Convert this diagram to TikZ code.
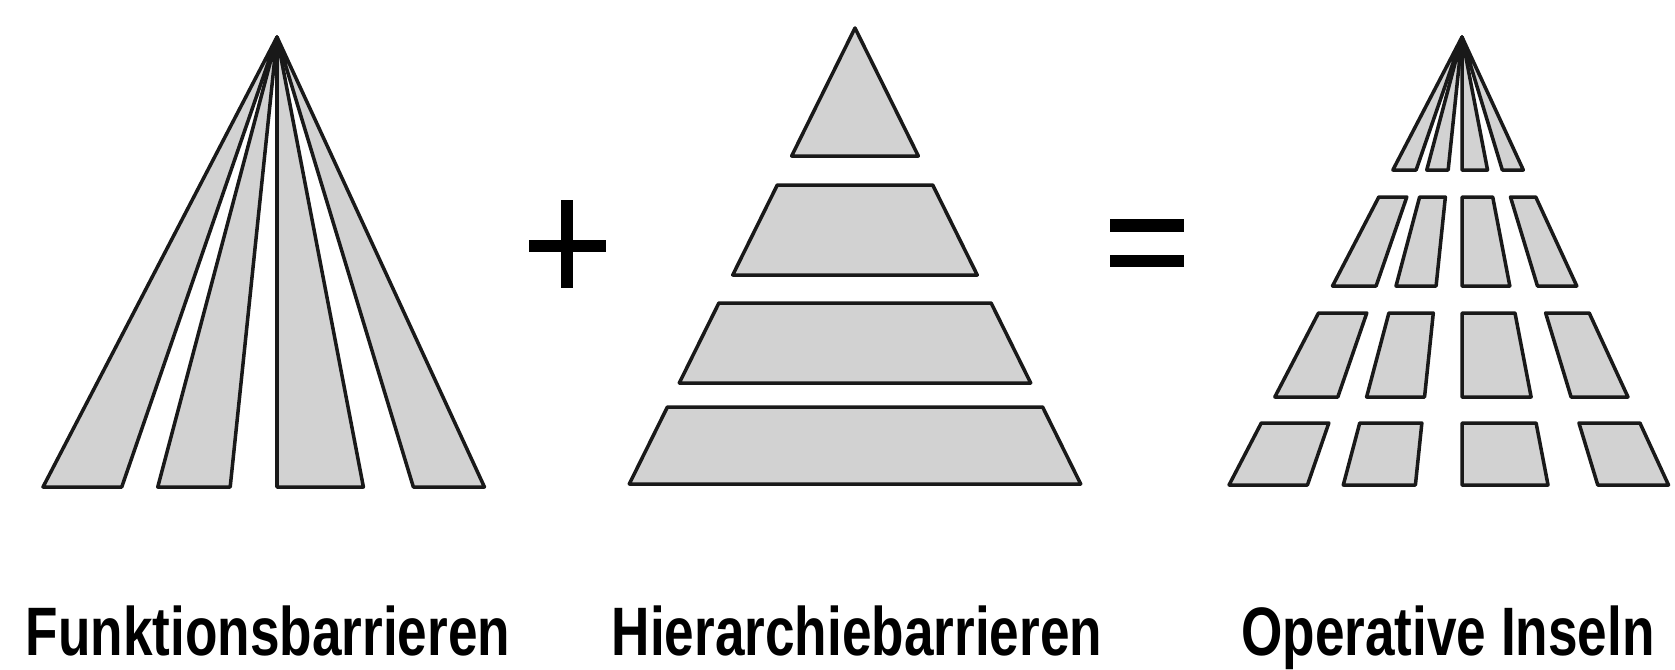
\documentclass[tikz,border=0pt]{standalone}
\usepackage{fontspec}
\setmainfont{Liberation Sans}
\definecolor{blockgray}{RGB}{210,210,210}

\begin{document}
\begin{tikzpicture}[x=0.01cm, y=-0.01cm,
		block/.style={draw=black!90, line width=1pt, fill=blockgray, line join=round},
		titel/.style={anchor=base, inner sep=0pt, font=\fontsize{19.5}{20}\selectfont\bfseries},
		sign/.style={line width=0.125cm, line cap=butt}]
		\useasboundingbox (0,0) rectangle (1675,669);
		
		% Funktionsbarrieren
		\foreach \sa/\sb in {-0.52/-0.345, -0.265/-0.104, 0/0.192, 0.303/0.461}
			\draw[block] (277,37) -- ({277+\sa*450},487) -- ({277+\sb*450},487) -- cycle;
		
		% Plus
		\draw[sign] (529,246) -- (606,246);
		\draw[sign] (567,200) -- (567,288);
		
		% Hierarchiebarrieren
		\draw[block] (855,28) -- ({855-0.495*128},156) -- ({855+0.495*128},156) -- cycle;
		\foreach \ya/\yb in {185/275, 303/383, 407/484}
			\draw[block] ({855-0.495*(\ya-28)},\ya) -- ({855+0.495*(\ya-28)},\ya)
				-- ({855+0.495*(\yb-28)},\yb) -- ({855-0.495*(\yb-28)},\yb) -- cycle;
		
		% Gleich
		\draw[sign] (1110,225.5) -- (1184,225.5);
		\draw[sign] (1110,261) -- (1184,261);
		
		% Operative Inseln
		\foreach \sa/\sb in {-0.52/-0.345, -0.265/-0.104, 0/0.192, 0.303/0.461} {
			\draw[block] (1462,37) -- ({1462+\sa*133},170) -- ({1462+\sb*133},170) -- cycle;
			\foreach \ya/\yb in {197/286, 313/397, 423/485}
				\draw[block] ({1462+\sa*(\ya-37)},\ya) -- ({1462+\sb*(\ya-37)},\ya)
					-- ({1462+\sb*(\yb-37)},\yb) -- ({1462+\sa*(\yb-37)},\yb) -- cycle;
		}
		
		% Beschriftung
		\node[titel] (funk) at (268,655) {\scalebox{0.775}[1]{Funktionsbarrieren}};
		\node[titel] (hier) at (857,655) {\scalebox{0.775}[1]{Hierarchiebarrieren}};
		\node[titel] (inseln) at (1448,655) {\scalebox{0.775}[1]{Operative Inseln}};
	\end{tikzpicture}
\end{document}
